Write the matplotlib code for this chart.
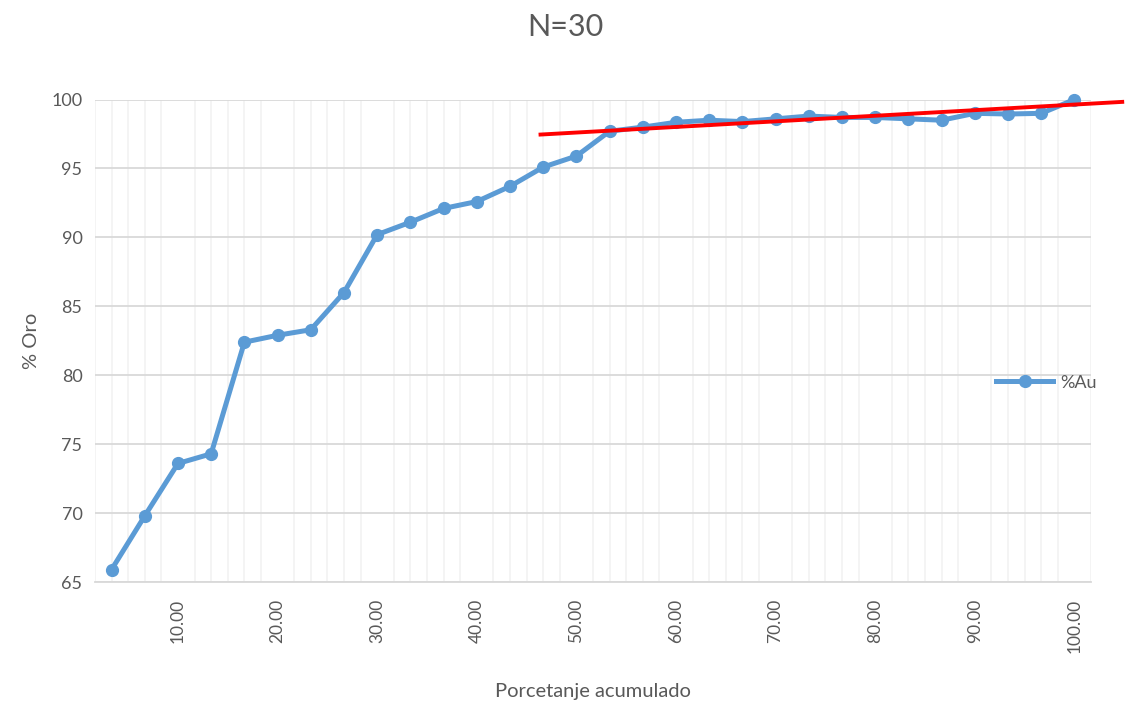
import matplotlib.pyplot as plt
from matplotlib.ticker import FixedLocator
import numpy as np

# porcentaje acumulado (30 muestras) y % Au
pct_acum = [round(100 * i / 30, 2) for i in range(1, 31)]
au = [65.9, 69.8, 73.6, 74.3, 82.4, 82.9, 83.3, 86.0, 90.2, 91.1,
      92.1, 92.6, 93.7, 95.1, 95.9, 97.7, 98.0, 98.35, 98.5, 98.4,
      98.6, 98.8, 98.7, 98.7, 98.6, 98.5, 99.0, 98.95, 99.0, 100.0]

# linea de tendencia dibujada a mano (roja)
trend_x = [46.4, 104.8]
trend_y = [97.46, 99.83]

x_ticks = [10, 20, 30, 40, 50, 60, 70, 80, 90, 100]
y_ticks = [65, 70, 75, 80, 85, 90, 95, 100]

plt.rcParams['font.family'] = ['Lato', 'DejaVu Sans']
txt = '#595959'

fig = plt.figure(figsize=(11.25, 7.11), dpi=100)
ax = fig.add_axes([0.0844, 0.1814, 0.8854, 0.6786])

step = 100 / 30
ax.set_xlim(step / 2, 100 + step / 2)
ax.set_ylim(65, 100)

# grid
ax.xaxis.set_minor_locator(FixedLocator(np.arange(step / 2, 100 + step, step / 2)))
ax.grid(which='minor', axis='x', color='#f2f2f2', lw=1.2, zorder=0)
ax.yaxis.set_major_locator(FixedLocator(y_ticks))
ax.grid(which='major', axis='y', color='#d9d9d9', lw=1.3, zorder=0)
ax.set_xticks(x_ticks)
ax.set_xticklabels([f'{v:.2f}' for v in x_ticks], rotation=90)

for s in ['top', 'right', 'left']:
    ax.spines[s].set_visible(False)
ax.spines['bottom'].set_color('#d9d9d9')
ax.spines['bottom'].set_linewidth(1.3)
ax.tick_params(which='both', length=0)
ax.tick_params(axis='x', labelsize=12.5, colors=txt, pad=12)
ax.tick_params(axis='y', labelsize=13, colors=txt, pad=9)

ax.plot(pct_acum, au, color='#5b9bd5', lw=3.6, marker='o', ms=8.5,
        label='%Au', zorder=3, clip_on=False)
ax.plot(trend_x, trend_y, color='#ff0000', lw=2.8, zorder=4, clip_on=False)

ax.set_xlabel('Porcetanje acumulado', fontsize=14.5, color=txt, labelpad=22)
ax.set_ylabel('% Oro', fontsize=14.5, color=txt, labelpad=8)
fig.suptitle('N=30', x=0.503, y=0.982, fontsize=22, color=txt)

ax.legend(loc='center left', bbox_to_anchor=(0.888, 0.413), frameon=False,
          fontsize=13, labelcolor=txt, handlelength=3.2, handletextpad=0.4)

fig.savefig('out.png', dpi=100)
